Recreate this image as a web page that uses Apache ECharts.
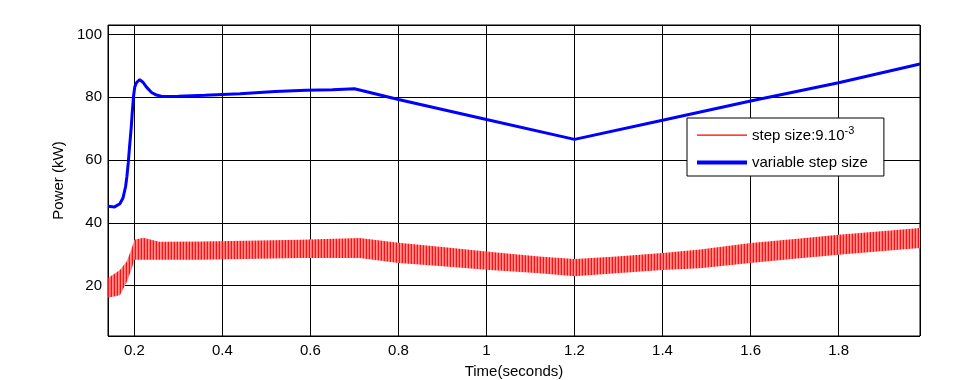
<!DOCTYPE html>
<html>
<head>
<meta charset="utf-8">
<script src="https://cdn.jsdelivr.net/npm/echarts@6/dist/echarts.min.js"></script>
<style>html,body{margin:0;padding:0;background:#fff}#c{width:977px;height:380px}</style>
</head>
<body>
<div id="c"></div>
<script>
// Blue: variable step size
const blueTime = [0.14,0.155,0.167,0.174,0.18,0.183,0.186,0.189,0.193,0.195,0.198,0.201,0.205,0.212,0.22,0.227,0.239,0.25,0.265,0.30,0.36,0.44,0.52,0.59,0.65,0.70,0.80,1.0,1.2,1.4,1.6,1.8,1.985];
const blueVal  = [45.3,45.1,46.1,47.9,51.6,54.8,59.1,64.3,70.7,75.0,80.3,83.4,84.7,85.6,84.7,83.3,81.5,80.7,80.2,80.3,80.6,81.1,81.8,82.2,82.4,82.7,79.3,72.9,66.6,72.7,78.8,84.6,90.6];
// Red: step size 9e-3 (oscillating band, lower / upper envelope)
const redTime = [0.14,0.167,0.182,0.193,0.2,0.22,0.257,0.35,0.45,0.576,0.712,0.8,0.9,1.0,1.12,1.2,1.295,1.4,1.485,1.6,1.7,1.8,1.985];
const redHigh = [22.5,25.0,27.6,31.5,34.6,35.3,34.0,34.1,34.3,34.6,35.2,33.7,32.3,30.9,29.3,28.5,29.3,30.4,31.5,33.6,34.9,36.2,38.4];
const redLow  = [16.2,17.0,21.0,25.0,28.3,28.3,28.3,28.3,28.5,28.8,28.8,27.2,26.2,25.1,24.0,23.0,24.0,25.0,25.6,27.2,28.6,29.9,32.0];
const seriesNames = ['step', 'variable step size'];

const pat = document.createElement('canvas');
pat.width = 3; pat.height = 1;
const pc = pat.getContext('2d');
pc.fillStyle = '#ff9090'; pc.fillRect(0,0,3,1);
pc.fillStyle = '#ff6a6a'; pc.fillRect(2,0,1,1);
pc.fillStyle = '#ff1010'; pc.fillRect(0,0,1,1);

const FONT = 'Liberation Sans';
const chart = echarts.init(document.getElementById('c'));
chart.setOption({
  animation: false,
  backgroundColor: '#fff',
  textStyle: { fontFamily: FONT, color: '#000' },
  grid: { left: 108, right: 57, top: 25, bottom: 44, show: true, borderColor: '#000', borderWidth: 1,
          containLabel: false, outerBoundsMode: 'none' },
  xAxis: {
    type: 'value', min: 0.14, max: 1.985, splitNumber: 9,
    name: 'Time(seconds)', nameLocation: 'middle', nameGap: 28,
    nameTextStyle: { fontSize: 15, color: '#000', fontFamily: FONT },
    axisLine: { show: false }, axisTick: { show: false },
    axisLabel: { fontSize: 15, color: '#000', fontFamily: FONT, margin: 7, showMinLabel: false, showMaxLabel: false },
    splitLine: { show: true, lineStyle: { color: '#000', width: 1 } }
  },
  yAxis: {
    type: 'value', min: 4, max: 103, splitNumber: 5,
    name: 'Power (kW)', nameLocation: 'middle', nameGap: 35,
    nameTextStyle: { fontSize: 15, color: '#000', fontFamily: FONT },
    axisLine: { show: false }, axisTick: { show: false },
    axisLabel: { fontSize: 15, color: '#000', fontFamily: FONT, margin: 6, showMinLabel: false, showMaxLabel: false },
    splitLine: { show: true, lineStyle: { color: '#000', width: 1 } }
  },
  legend: {
    orient: 'vertical', left: 687, top: 118,
    data: [
      { name: seriesNames[0], icon: 'path://M0,0M50,14M0,6h50v1.2h-50z' },
      { name: seriesNames[1], icon: 'path://M0,0M50,14M0,5h50v4h-50z' }
    ],
    backgroundColor: '#fff', borderColor: '#000', borderWidth: 1,
    padding: [7, 16, 6, 10], itemGap: 12, itemWidth: 50, itemHeight: 14,
    textStyle: {
      fontSize: 15, color: '#000', fontFamily: FONT,
      rich: { sup: { fontSize: 11, fontFamily: FONT, color: '#000', padding: [0, 0, 10, 0] } }
    },
    formatter: function (n) { return n === 'step' ? 'step size:9.10{sup|-3}' : n; }
  },
  series: [
    {
      name: seriesNames[0], type: 'custom', silent: true, clip: true, z: 2,
      color: '#ff0000',
      itemStyle: { color: '#ff0000' },
      data: redTime.map((t, i) => [t, redLow[i], redHigh[i]]),
      encode: { x: 0, y: [1, 2] },
      renderItem: function (params, api) {
        if (params.dataIndex !== 0) return null;
        const pts = [];
        for (let i = 0; i < redTime.length; i++) pts.push(api.coord([redTime[i], redHigh[i]]));
        for (let i = redTime.length - 1; i >= 0; i--) pts.push(api.coord([redTime[i], redLow[i]]));
        return { type: 'polygon', shape: { points: pts }, style: { fill: { image: pat, repeat: 'repeat' }, stroke: null } };
      }
    },
    {
      name: seriesNames[1], type: 'line', symbol: 'none', color: '#0000ff',
      itemStyle: { color: '#0000ff' },
      lineStyle: { width: 3, color: '#0000ff' },
      data: blueTime.map((t, i) => [t, blueVal[i]]), z: 3
    }
  ]
});
</script>
</body>
</html>
